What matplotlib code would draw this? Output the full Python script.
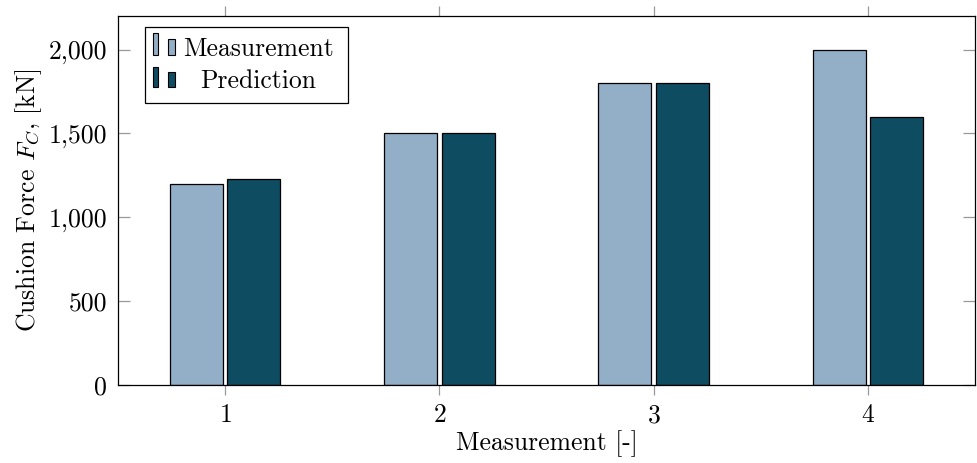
import numpy as np
import matplotlib
matplotlib.use("Agg")
import matplotlib.pyplot as plt
from matplotlib.patches import Rectangle
from matplotlib.ticker import FuncFormatter

# data
runs = [1, 2, 3, 4]
measured = [1200, 1500, 1800, 2000]
predicted = [1230, 1500, 1800, 1600]
series_names = ["Measurement", "Prediction"]

c_meas = "#93aec7"
c_pred = "#0e4c61"

plt.rcParams["font.family"] = "cmr10"
plt.rcParams["mathtext.fontset"] = "cm"
plt.rcParams["axes.formatter.use_mathtext"] = True

fig = plt.figure(figsize=(9.77, 4.63), dpi=100)
ax = fig.add_axes([0.1208, 0.1685, 0.8772, 0.7969])

x = np.array(runs)
w = 0.247
off = 0.134
ax.bar(x - off, measured, width=w, color=c_meas, edgecolor="black", linewidth=0.9)
ax.bar(x + off, predicted, width=w, color=c_pred, edgecolor="black", linewidth=0.9)

ax.set_xlim(0.5, 4.5)
ax.set_ylim(0, 2200)
ax.set_xticks(runs)
ax.set_yticks([0, 500, 1000, 1500, 2000])
ax.yaxis.set_major_formatter(FuncFormatter(lambda v, p: f"{v:,.0f}"))

ax.tick_params(axis="x", direction="out", top=True, bottom=True, length=7.5,
               width=0.9, color="#999999", labelsize=18.5, pad=6)
ax.tick_params(axis="y", direction="in", left=True, right=True, length=8.5,
               width=0.9, color="#999999", labelsize=18.5, pad=8)
for s in ax.spines.values():
    s.set_linewidth(0.9)

ax.set_xlabel("Measurement [-]", fontsize=18.5, labelpad=2)
ax.set_ylabel("Cushion Force $F_C$, [kN]", fontsize=18.5, labelpad=3)

# pgfplots-style legend drawn by hand
lx0, lx1 = (145 - 118) / 857, (348 - 118) / 857
ly0, ly1 = (385 - 103) / 369, (385 - 27) / 369
ax.add_patch(Rectangle((lx0, ly0), lx1 - lx0, ly1 - ly0, transform=ax.transAxes,
                       facecolor="white", edgecolor="black", linewidth=0.9, zorder=5))
rows = [(c_meas, 55, 22, 16), (c_pred, 87, 20, 15)]
for (col, ybase, h1, h2), name in zip(rows, series_names):
    for bx, bw, bh in [(153, 5, h1), (168, 7, h2)]:
        ax.add_patch(Rectangle(((bx - 118) / 857, (385 - ybase) / 369), bw / 857,
                               bh / 369, transform=ax.transAxes,
                               facecolor=col, edgecolor="black", linewidth=0.8,
                               zorder=6))
    ax.text((258 - 118) / 857, (385 - (ybase - 6)) / 369, name, transform=ax.transAxes,
            ha="center", va="center", fontsize=18.5, zorder=7)

fig.savefig("out.png", dpi=100)
